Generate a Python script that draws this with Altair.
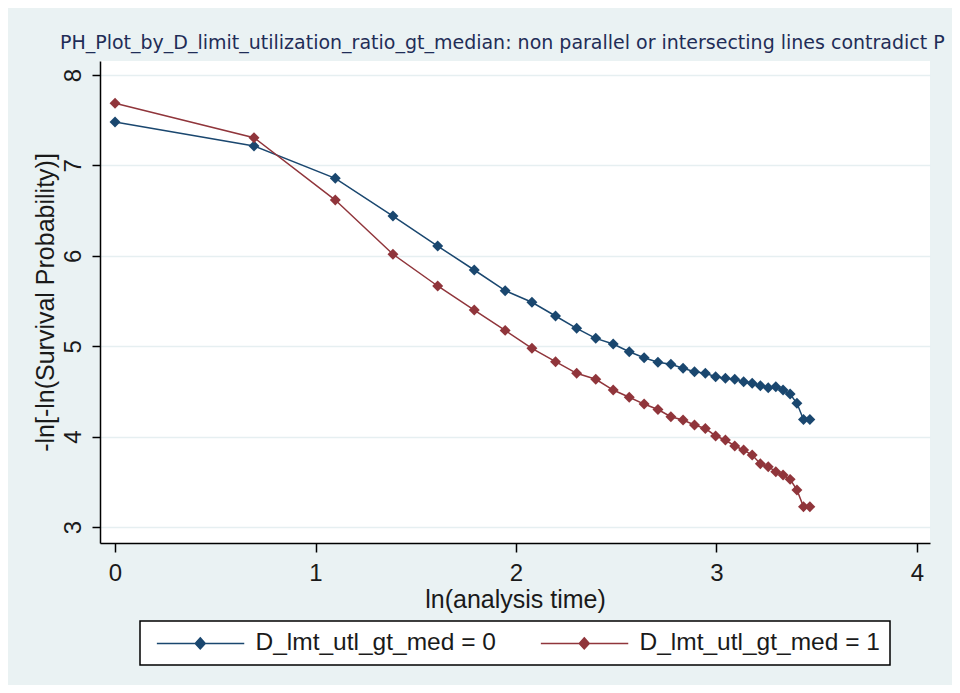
import altair as alt
import pandas as pd

# analysis times (x axis shows ln of these)
times = list(range(1, 33))

# -ln[-ln(S)] for D_lmt_utl_gt_med = 0
group0 = [7.48, 7.215, 6.857, 6.44, 6.108, 5.843, 5.614, 5.486, 5.334, 5.198,
          5.087, 5.024, 4.939, 4.872, 4.822, 4.80, 4.756, 4.718, 4.70, 4.663,
          4.645, 4.634, 4.607, 4.59, 4.563, 4.541, 4.552, 4.515, 4.471, 4.368,
          4.19, 4.19]

# -ln[-ln(S)] for D_lmt_utl_gt_med = 1
group1 = [7.687, 7.307, 6.617, 6.017, 5.666, 5.40, 5.175, 4.977, 4.829, 4.70,
          4.634, 4.515, 4.435, 4.36, 4.30, 4.22, 4.184, 4.128, 4.09, 4.007,
          3.962, 3.896, 3.852, 3.796, 3.70, 3.667, 3.612, 3.575, 3.527, 3.41,
          3.225, 3.225]

labels = ["D_lmt_utl_gt_med = 0", "D_lmt_utl_gt_med = 1"]
colors = ["#1a476f", "#90353b"]
x_ticks = [0, 1, 2, 3, 4]
y_ticks = [3, 4, 5, 6, 7, 8]

rows = []
for t, v in zip(times, group0):
    rows.append({"t": t, "y": v, "grp": labels[0]})
for t, v in zip(times, group1):
    rows.append({"t": t, "y": v, "grp": labels[1]})
df = pd.DataFrame(rows)

FONT = "Liberation Sans"
TXT = "#1a1a1a"

base = alt.Chart(df).transform_calculate(lnt="log(datum.t)")

x = alt.X(
    "lnt:Q",
    scale=alt.Scale(domain=[-0.075, 4.065], nice=False, zero=False),
    axis=alt.Axis(
        values=x_ticks, title="ln(analysis time)", grid=False,
        domainColor="black", domainWidth=1.5, tickColor="black", tickWidth=1.5,
        tickSize=9, labelPadding=9, labelFontSize=24, labelFont=FONT, labelColor=TXT,
        titleFontSize=25, titleFont=FONT, titleColor=TXT, titleFontWeight="normal",
        titleBaseline="middle", titleY=56, format="d",
    ),
)
y = alt.Y(
    "y:Q",
    scale=alt.Scale(domain=[2.823, 8.155], nice=False, zero=False),
    axis=alt.Axis(
        values=y_ticks, title="-ln[-ln(Survival Probability)]", grid=True,
        gridColor="#e6eff1", gridWidth=1.5,
        domainColor="black", domainWidth=1.5, tickColor="black", tickWidth=1.5,
        tickSize=8, labelPadding=12, labelAngle=270, labelAlign="center",
        labelBaseline="alphabetic", labelFontSize=24, labelFont=FONT, labelColor=TXT,
        titleFontSize=25, titleFont=FONT, titleColor=TXT, titleFontWeight="normal",
        titleAngle=270, titleBaseline="middle", titleX=-55, format="d",
    ),
)

legend = alt.Legend(
    orient="none", legendX=40, legendY=560, direction="horizontal", title=None,
    fillColor="white", strokeColor="black", padding=10,
    symbolType="M-1.08,0H16.4M7.6,-1.1L8.6,0L7.6,1.1L6.6,0Z",
    symbolSize=100, symbolStrokeWidth=1.5,
    labelFontSize=24.5, labelFont=FONT, labelColor=TXT, labelOffset=81,
    columnPadding=38, labelLimit=400,
)

color = alt.Color("grp:N", scale=alt.Scale(domain=labels, range=colors), legend=legend)

lines = base.mark_line(strokeWidth=1.5).encode(x=x, y=y, color=color)
points = base.mark_point(shape="diamond", filled=True, size=120, opacity=1).encode(
    x=x, y=y, color=color
)

chart = (
    (lines + points)
    .properties(
        width=830, height=482,
        title=alt.TitleParams(
            "PH_Plot_by_D_limit_utilization_ratio_gt_median: non parallel or intersecting lines contradict P",
            anchor="start", frame="group", dx=-40, dy=19, offset=12, baseline="alphabetic",
            font="DejaVu Sans", fontSize=19, fontWeight="normal", color="#1f2d57",
        ),
        autosize=alt.AutoSizeParams(type="none"),
        padding={"left": 92, "top": 53, "right": 22, "bottom": 142},
        background="#eaf2f3",
    )
    .configure_view(fill="white", strokeWidth=0)
    .configure_legend(strokeWidth=1.5)
)

chart.save("out.html", embed_options={"renderer": "svg", "actions": False})
